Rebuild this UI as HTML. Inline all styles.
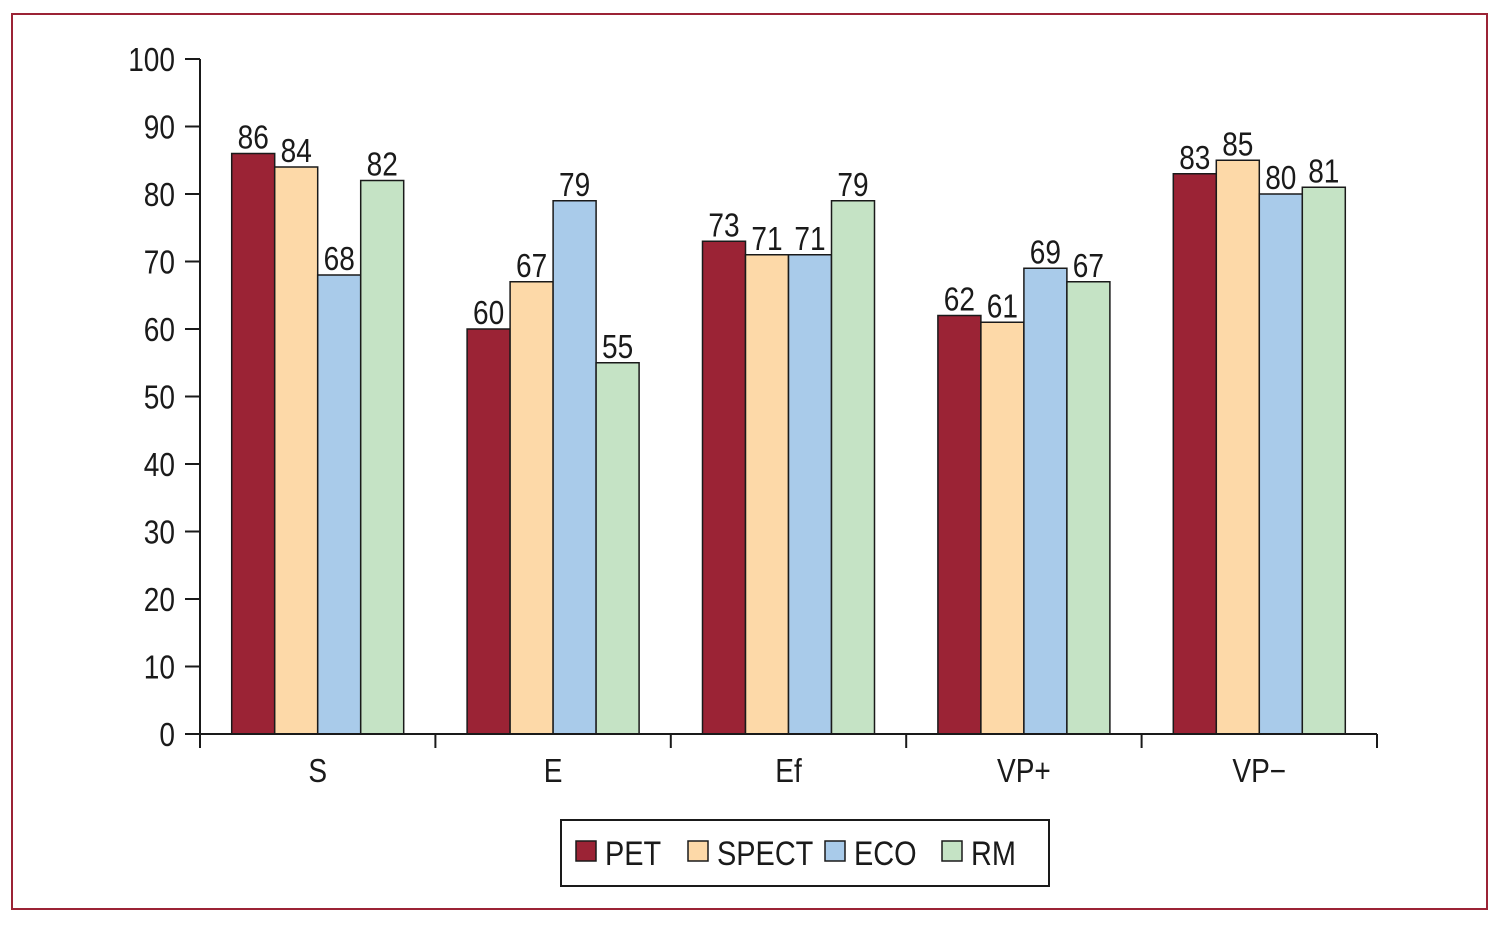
<!DOCTYPE html>
<html><head><meta charset="utf-8"><style>
html,body{margin:0;padding:0;background:#fff;}
svg{display:block;font-family:"Liberation Sans",sans-serif;}
</style></head><body>
<svg id="chart" width="1500" height="925" viewBox="0 0 1500 925" xmlns="http://www.w3.org/2000/svg">
<rect x="12" y="14" width="1475" height="895" fill="#fff" stroke="#9b2335" stroke-width="2"/>
<g id="plot"></g>
</svg>
<script>
const categories = ["S","E","Ef","VP+","VP\u2212"];
const seriesNames = ["PET","SPECT","ECO","RM"];
const petValues = [86,60,73,62,83];
const spectValues = [84,67,71,61,85];
const ecoValues = [68,79,71,69,80];
const rmValues = [82,55,79,67,81];
const yTicks = [0,10,20,30,40,50,60,70,80,90,100];

const colors = ["#9b2335","#fdd9a8","#a9cbea","#c5e3c5"];
const series = [petValues, spectValues, ecoValues, rmValues];
const NS = "http://www.w3.org/2000/svg";
const g = document.getElementById("plot");
const x0 = 200, x1 = 1377, yBase = 734, yTop = 59;
const yMax = 100;
const y = v => yBase - (v / yMax) * (yBase - yTop);
const catW = (x1 - x0) / categories.length;
const barW = 43;
const xCat = i => x0 + catW * (i + 0.5);
function el(tag, attrs, parent) {
  const e = document.createElementNS(NS, tag);
  for (const k in attrs) e.setAttribute(k, attrs[k]);
  (parent || g).appendChild(e);
  return e;
}
function txt(x, yy, s, anchor, size) {
  const t = el("text", {transform: `translate(${x},${yy}) scale(0.85,1)`, "text-anchor": anchor, "font-size": size, fill: "#1a1a1a"});
  t.textContent = s;
  return t;
}
// bars
series.forEach((vals, s) => {
  vals.forEach((v, i) => {
    const bx = xCat(i) - 2 * barW + s * barW;
    const r = el("rect", {x: bx, y: y(v), width: barW, height: yBase - y(v), fill: colors[s], stroke: "#1a1a1a", "stroke-width": 1.5});
    
    
    const t = txt(bx + barW / 2, y(v) - 5, String(v), "middle", 33);
    
    
  });
});
// y axis
const ya = el("line", {x1: x0, y1: yTop, x2: x0, y2: yBase, stroke: "#1a1a1a", "stroke-width": 2});


yTicks.forEach(v => {
  el("line", {x1: 185, y1: y(v), x2: x0, y2: y(v), stroke: "#1a1a1a", "stroke-width": 2});
  const t = txt(175, y(v) + 12, String(v), "end", 33);
  
  
});
// x axis
const xa = el("line", {x1: x0, y1: yBase, x2: x1, y2: yBase, stroke: "#1a1a1a", "stroke-width": 2});


for (let i = 0; i <= categories.length; i++) {
  el("line", {x1: x0 + catW * i, y1: yBase, x2: x0 + catW * i, y2: yBase + 14, stroke: "#1a1a1a", "stroke-width": 2});
}
categories.forEach((c, i) => {
  const t = txt(xCat(i), 782, c, "middle", 33);
  
  
});
// legend
const lg = el("g", {});


el("rect", {x: 561, y: 820, width: 488, height: 66, fill: "#fff", stroke: "#1a1a1a", "stroke-width": 2}, lg);
const legX = [576, 688, 825, 942];
seriesNames.forEach((n, s) => {
  const e = el("g", {}, lg);
  
  
  el("rect", {x: legX[s], y: 841, width: 20, height: 20, fill: colors[s], stroke: "#1a1a1a", "stroke-width": 1.5}, e);
  const t = el("text", {transform: `translate(${legX[s] + 29},865) scale(0.85,1)`, "font-size": 34, fill: "#1a1a1a"}, e);
  t.textContent = n;
});
</script>
</body></html>
